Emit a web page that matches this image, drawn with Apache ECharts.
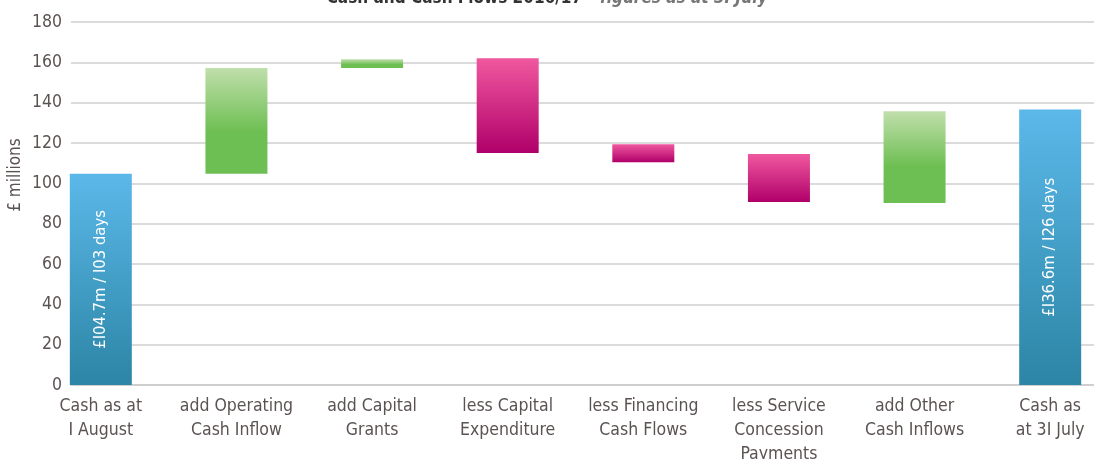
<!DOCTYPE html>
<html>
<head>
<meta charset="utf-8">
<script src="https://cdn.jsdelivr.net/npm/echarts@6/dist/echarts.min.js"></script>
<style>html,body{margin:0;padding:0;background:#fff}#c{width:1094px;height:459px}</style>
</head>
<body>
<div id="c"></div>
<script>
// ---- data ----
var categories = ['Cash as at\nI August', 'add Operating\nCash Inflow', 'add Capital\nGrants', 'less Capital\nExpenditure', 'less Financing\nCash Flows', 'less Service\nConcession\nPayments', 'add Other\nCash Inflows', 'Cash as\nat 3I July'];
var barBottoms = [0, 104.7, 157.2, 115.1, 110.5, 90.8, 90.3, 0];
var barTops = [104.7, 157.2, 161.5, 162.0, 119.4, 114.5, 135.7, 136.6];
var barKinds = ['total', 'add', 'add', 'less', 'less', 'less', 'add', 'total'];
var barNotes = ['£I04.7m / I03 days', '', '', '', '', '', '', '£I36.6m / I26 days'];
var yTicks = { min: 0, max: 180, interval: 20 };

// ---- build ----
var FONT = '"DejaVu Sans Condensed", sans-serif';
var TXT = '#5b5352';
function grad(kind) {
  if (kind === 'total') return new echarts.graphic.LinearGradient(0, 0, 0, 1, [{offset: 0, color: '#5bb8e9'}, {offset: 1, color: '#2c85a5'}]);
  if (kind === 'add') return new echarts.graphic.LinearGradient(0, 0, 0, 1, [{offset: 0, color: '#c0dfab'}, {offset: 0.6, color: '#6ebf53'}, {offset: 1, color: '#6ebf53'}]);
  return new echarts.graphic.LinearGradient(0, 0, 0, 1, [{offset: 0, color: '#f0589f'}, {offset: 1, color: '#b0006a'}]);
}
var baseData = barBottoms.map(function (b, i) { return Math.min(b, barTops[i]); });
var valData = barTops.map(function (t, i) {
  var item = {
    value: Math.abs(t - barBottoms[i]),
    itemStyle: { color: grad(barKinds[i]) }
  };
  if (barNotes[i]) {
    item.label = {
      show: true, position: 'inside', rotate: 90, formatter: barNotes[i],
      color: '#fff', fontSize: 16.5, fontFamily: FONT
    };
  }
  return item;
});

var chart = echarts.init(document.getElementById('c'), null, { renderer: 'canvas' });
chart.setOption({
  animation: false,
  backgroundColor: '#fff',
  title: {
    text: '{a|Cash and Cash Flows 2016/17} {b|– figures as at 3I July}',
    left: 'center', top: -15,
    textStyle: { rich: {
      a: { fontSize: 17, fontWeight: 'bold', color: '#333', fontFamily: FONT },
      b: { fontSize: 17, fontStyle: 'italic', color: '#777', fontFamily: FONT }
    } }
  },
  grid: [
    { left: 71, right: 0, top: 22, bottom: 74, outerBoundsMode: 'none', containLabel: false },
    { left: 33, width: 1085, top: 22, bottom: 74, outerBoundsMode: 'none', containLabel: false }
  ],
  xAxis: [
    { type: 'category', gridIndex: 0, data: categories, axisLabel: { show: false }, axisTick: { show: false },
      axisLine: { show: true, lineStyle: { color: '#cfcfcf', width: 2 } } },
    { type: 'category', gridIndex: 1, data: categories, axisTick: { show: false }, axisLine: { show: false },
      axisLabel: { interval: 0, color: TXT, fontSize: 17.5, lineHeight: 24, fontFamily: FONT, margin: 9 } }
  ],
  yAxis: [
    { type: 'value', gridIndex: 0, min: yTicks.min, max: yTicks.max, interval: yTicks.interval,
      axisLine: { show: false }, axisTick: { show: false },
      axisLabel: { color: TXT, fontSize: 17.5, fontFamily: FONT, margin: 9 },
      splitLine: { lineStyle: { color: '#cfcfcf', width: 1.5 } } },
    { type: 'value', gridIndex: 1, min: yTicks.min, max: yTicks.max, interval: yTicks.interval, show: false,
      splitLine: { show: false } }
  ],
  graphic: [
    { type: 'text', x: 16, y: 175, rotation: Math.PI / 2,
      style: { text: '£ millions', fill: TXT, fontSize: 17, fontFamily: FONT, textAlign: 'center', textVerticalAlign: 'middle' } }
  ],
  series: [
    { type: 'bar', xAxisIndex: 0, yAxisIndex: 0, data: [], silent: true },
    { type: 'bar', xAxisIndex: 1, yAxisIndex: 1, stack: 'w', barWidth: 62, data: baseData,
      itemStyle: { color: 'rgba(0,0,0,0)' }, silent: true },
    { type: 'bar', xAxisIndex: 1, yAxisIndex: 1, stack: 'w', barWidth: 62, data: valData }
  ]
});
</script>
</body>
</html>
